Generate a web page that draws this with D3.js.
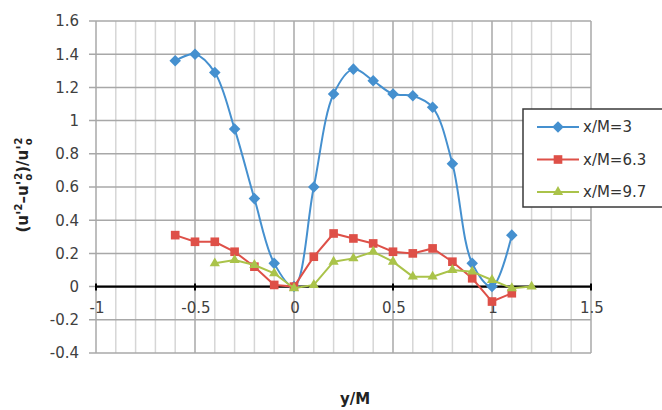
<!DOCTYPE html>
<html>
<head>
<meta charset="utf-8">
<script src="https://cdn.jsdelivr.net/npm/d3@7"></script>
<style>
  body { margin: 0; background: #fff; }
  svg { display: block; font-family: "DejaVu Sans", Verdana, sans-serif; }
</style>
</head>
<body>
<svg id="chart" width="662" height="410"></svg>
<script>
// data
var xs3 = [-0.6, -0.5, -0.4, -0.3, -0.2, -0.1, 0, 0.1, 0.2, 0.3, 0.4, 0.5, 0.6, 0.7, 0.8, 0.9, 1.0, 1.1];
var ys3 = [1.36, 1.40, 1.29, 0.95, 0.53, 0.14, 0.0, 0.60, 1.16, 1.31, 1.24, 1.16, 1.15, 1.08, 0.74, 0.14, 0.0, 0.31];

var xs63 = [-0.6, -0.5, -0.4, -0.3, -0.2, -0.1, 0, 0.1, 0.2, 0.3, 0.4, 0.5, 0.6, 0.7, 0.8, 0.9, 1.0, 1.1];
var ys63 = [0.31, 0.27, 0.27, 0.21, 0.12, 0.01, 0.0, 0.18, 0.32, 0.29, 0.26, 0.21, 0.20, 0.23, 0.15, 0.05, -0.09, -0.04];

var xs97 = [-0.4, -0.3, -0.2, -0.1, 0, 0.1, 0.2, 0.3, 0.4, 0.5, 0.6, 0.7, 0.8, 0.9, 1.0, 1.1, 1.2];
var ys97 = [0.14, 0.16, 0.13, 0.08, -0.01, 0.01, 0.15, 0.17, 0.21, 0.15, 0.06, 0.06, 0.10, 0.09, 0.04, -0.01, 0.0];

var xTicks = [-1, -0.5, 0, 0.5, 1, 1.5];
var yTicks = [-0.4, -0.2, 0, 0.2, 0.4, 0.6, 0.8, 1, 1.2, 1.4, 1.6];

var seriesNames = ["x/M=3", "x/M=6.3", "x/M=9.7"];

var svg = d3.select("#chart");

var x = d3.scaleLinear().domain([-1, 1.5]).range([96, 591]);
var y = d3.scaleLinear().domain([-0.4, 1.6]).range([353, 21]);

var series = [
  { name: seriesNames[0], xs: xs3, ys: ys3, color: "#4590cf", shape: d3.symbolDiamond2, size: 85, curve: d3.curveCatmullRom },
  { name: seriesNames[1], xs: xs63, ys: ys63, color: "#de5048", shape: d3.symbolSquare2, size: 95, curve: d3.curveLinear },
  { name: seriesNames[2], xs: xs97, ys: ys97, color: "#aac34a", shape: d3.symbolTriangle2, size: 75, curve: d3.curveLinear }
];

// grid
var minor = d3.range(-10, 16).map(function(i){ return i / 10; });
svg.append("g").selectAll("line")
  .data(minor)
  .enter().append("line")
  .attr("x1", function(d){ return x(d); })
  .attr("x2", function(d){ return x(d); })
  .attr("y1", y(1.6))
  .attr("y2", y(-0.4))
  .attr("stroke", function(d){ return Math.abs(d * 2 - Math.round(d * 2)) < 1e-6 ? "#a8a8a8" : "#d6d6d6"; })
  .attr("stroke-width", 1.5);

svg.append("g").selectAll("line")
  .data(yTicks)
  .enter().append("line")
  .attr("x1", x(-1) - 7)
  .attr("x2", x(1.5))
  .attr("y1", function(d){ return y(d); })
  .attr("y2", function(d){ return y(d); })
  .attr("stroke", "#a8a8a8")
  .attr("stroke-width", 1.5);

// y tick labels
svg.append("g").selectAll("text")
  .data(yTicks)
  .enter().append("text")
  .attr("x", 79)
  .attr("y", function(d){ return y(d); })
  .attr("dy", "0.36em")
  .attr("text-anchor", "end")
  .attr("font-size", 15)
  .attr("fill", "#404040")
  .text(function(d){ return String(d); });

// x axis line at zero
svg.append("line")
  .attr("x1", x(-1)).attr("x2", x(1.5))
  .attr("y1", y(0)).attr("y2", y(0))
  .attr("stroke", "#000").attr("stroke-width", 2.2);

svg.append("g").selectAll("line")
  .data(xTicks)
  .enter().append("line")
  .attr("x1", function(d){ return x(d); })
  .attr("x2", function(d){ return x(d); })
  .attr("y1", y(0) - 3)
  .attr("y2", y(0) + 4)
  .attr("stroke", "#000").attr("stroke-width", 2);

svg.append("g").selectAll("text")
  .data(xTicks)
  .enter().append("text")
  .attr("x", function(d){ return x(d) + 1; })
  .attr("y", y(0) + 26)
  .attr("text-anchor", "middle")
  .attr("font-size", 15)
  .attr("fill", "#404040")
  .text(function(d){ return String(d); });

// series
series.forEach(function(s) {
  var pts = s.xs.map(function(v, i){ return [v, s.ys[i]]; });
  var line = d3.line()
    .x(function(d){ return x(d[0]); })
    .y(function(d){ return y(d[1]); })
    .curve(s.curve);
  svg.append("path")
    .datum(pts)
    .attr("d", line)
    .attr("fill", "none")
    .attr("stroke", s.color)
    .attr("stroke-width", 2);
  svg.append("g").selectAll("path")
    .data(pts)
    .enter().append("path")
    .attr("d", d3.symbol().type(s.shape).size(s.size))
    .attr("transform", function(d){ return "translate(" + x(d[0]) + "," + y(d[1]) + ")"; })
    .attr("fill", s.color);
});

// legend
var lg = svg.append("g");
lg.append("rect")
  .attr("x", 523).attr("y", 109)
  .attr("width", 160).attr("height", 98)
  .attr("fill", "#fff")
  .attr("stroke", "#3a3a3a")
  .attr("stroke-width", 1.5);

series.forEach(function(s, i) {
  var ly = 127 + i * 32.5;
  lg.append("line")
    .attr("x1", 537).attr("x2", 579)
    .attr("y1", ly).attr("y2", ly)
    .attr("stroke", s.color).attr("stroke-width", 2);
  lg.append("path")
    .attr("d", d3.symbol().type(s.shape).size(s.size)())
    .attr("transform", "translate(558," + ly + ")")
    .attr("fill", s.color);
  lg.append("text")
    .attr("x", 583).attr("y", ly)
    .attr("dy", "0.36em")
    .attr("font-size", 15)
    .attr("fill", "#333")
    .text(s.name);
});

// axis titles
svg.append("text")
  .attr("x", 355).attr("y", 404)
  .attr("text-anchor", "middle")
  .attr("font-size", 15)
  .attr("font-weight", "bold")
  .attr("fill", "#222")
  .text("y/M");

var yt = svg.append("text")
  .attr("transform", "translate(28,185) rotate(-90)")
  .attr("text-anchor", "middle")
  .attr("font-size", 15)
  .attr("font-weight", "bold")
  .attr("fill", "#222");
yt.append("tspan").text("(u'");
yt.append("tspan").attr("font-size", 10).attr("dy", -6).text("2");
yt.append("tspan").attr("dy", 6).text("\u2013u'");
yt.append("tspan").attr("font-size", 10).attr("dy", 4).text("o");
yt.append("tspan").attr("font-size", 10).attr("dx", -6).attr("dy", -10).text("2");
yt.append("tspan").attr("dy", 6).text(")/u'");
yt.append("tspan").attr("font-size", 10).attr("dy", 4).text("o");
yt.append("tspan").attr("font-size", 10).attr("dx", -6).attr("dy", -10).text("2");
</script>
</body>
</html>
